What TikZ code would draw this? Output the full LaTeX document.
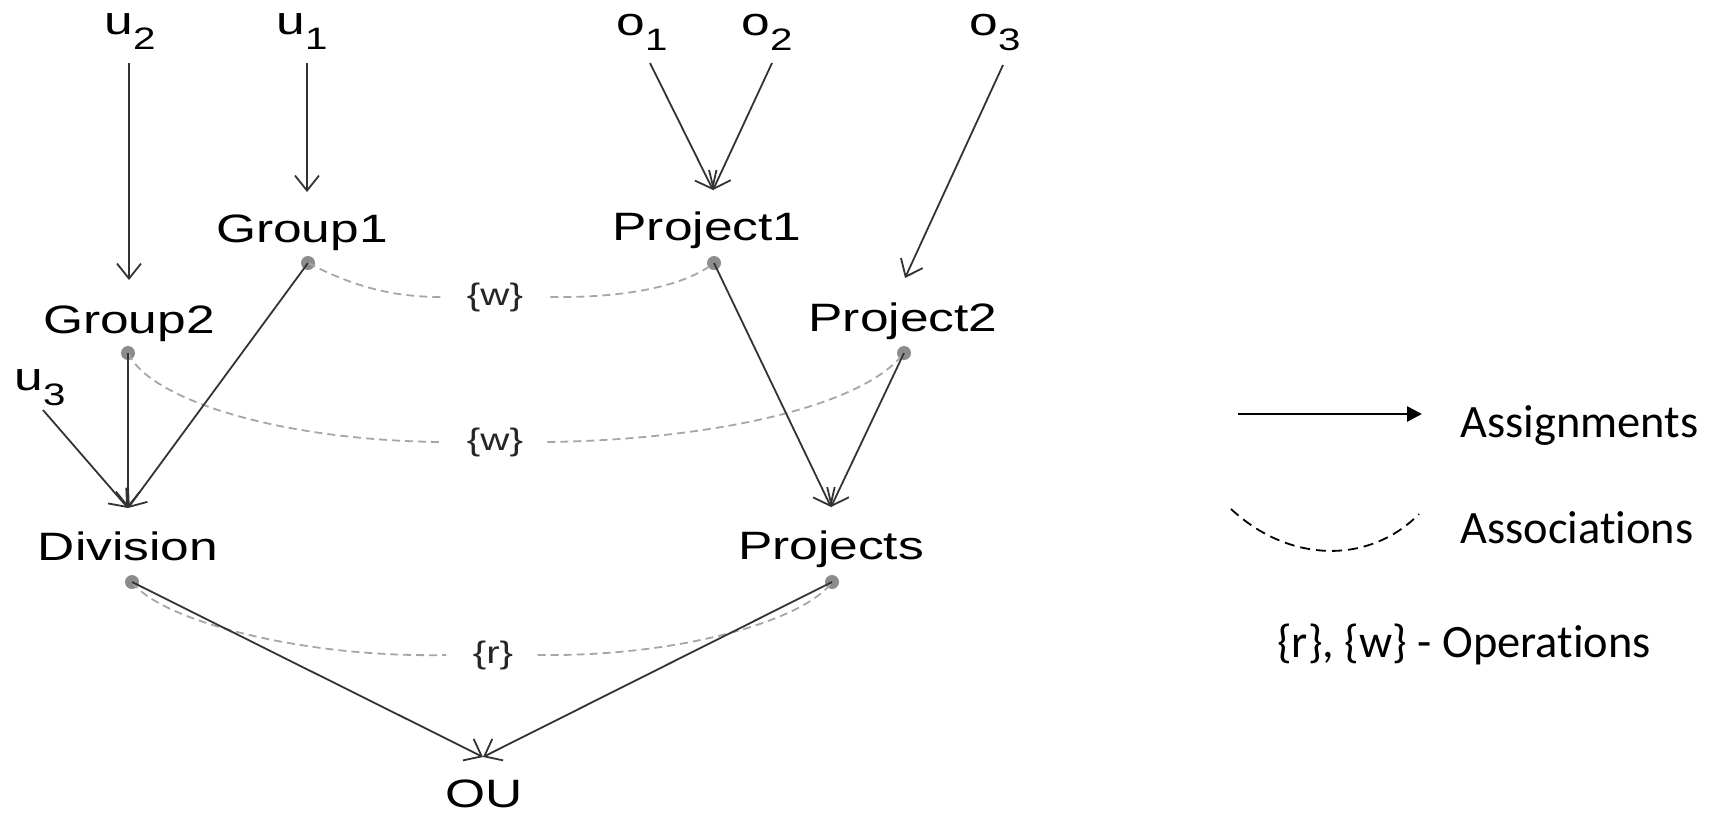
\documentclass[tikz,border=0pt]{standalone}
\usepackage{fontspec}
\setmainfont{Liberation Sans}
\newfontfamily\diagfont[FakeStretch=1.3]{Liberation Sans}
\newfontfamily\legendfont[Ligatures=NoCommon]{Carlito}
\usetikzlibrary{arrows.meta}
\newcommand\sbx[1]{\raisebox{-7.5pt}{\fontsize{15.5pt}{15.5pt}\selectfont #1}}
\begin{document}
\begin{tikzpicture}[x=0.5pt,y=-0.5pt,
  lbl/.style={inner sep=0pt, anchor=base, font=\diagfont\fontsize{19.8pt}{20pt}\selectfont},
  op/.style={inner sep=0pt, font=\diagfont\fontsize{15.5pt}{16pt}\selectfont, text=black!85},
  dot/.style={circle, fill=gray!90, inner sep=0pt, minimum size=7pt},
  assign/.style={draw=black!80, line width=0.9pt, -{Straight Barb[length=7.5pt,width=12pt]}},
  assoc/.style={draw=gray!70, line width=0.9pt, dash pattern=on 4pt off 2.5pt},
  leg/.style={inner sep=0pt, anchor=base west, font=\legendfont\fontsize{23.2pt}{24pt}\selectfont},
  legarrow/.style={draw=black, line width=1.3pt, -{Triangle[length=7.5pt,width=7.5pt]}},
  legassoc/.style={draw=black, line width=0.9pt, dash pattern=on 5pt off 3pt}]
\useasboundingbox (0,0) rectangle (1734,815);

% labels
\node[lbl] (u2) at (130,34) {u\sbx{2}};
\node[lbl] (u1) at (302,34) {u\sbx{1}};
\node[lbl] (o1) at (642,35) {o\sbx{1}};
\node[lbl] (o2) at (767,35) {o\sbx{2}};
\node[lbl] (o3) at (995,35) {o\sbx{3}};
\node[lbl] (u3) at (40,390) {u\sbx{3}};
\node[lbl] (g1) at (302,242) {Group1};
\node[lbl] (p1) at (707,240) {Project1};
\node[lbl] (g2) at (129,333) {Group2};
\node[lbl] (p2) at (903,331) {Project2};
\node[lbl] (div) at (128,560) {Division};
\node[lbl] (prs) at (831,559) {Projects};
\node[lbl] (ou) at (484,807) {OU};

% dots
\node[dot] (g1d) at (308,263) {};
\node[dot] (p1d) at (714,263) {};
\node[dot] (g2d) at (128,353) {};
\node[dot] (p2d) at (904,353) {};
\node[dot] (divd) at (132,582) {};
\node[dot] (prsd) at (832,582) {};

% connector end points
\coordinate (u2o) at (129,63);  \coordinate (g2i) at (129,280);
\coordinate (u1o) at (307,63);  \coordinate (g1i) at (307,192);
\coordinate (o1o) at (650,63);  \coordinate (o2o) at (772,63);
\coordinate (p1i) at (713,190);
\coordinate (o3o) at (1003,65); \coordinate (p2i) at (905,278);
\coordinate (u3o) at (43,410);  \coordinate (divi) at (128,508);
\coordinate (prsi) at (831,507);
\coordinate (oui) at (483,757);

% association labels
\node[op] (w1) at (495,297) {\{w\}};
\node[op] (w2) at (495,442) {\{w\}};
\node[op] (r1) at (493,655) {\{r\}};

% associations
\draw[assoc] (g1d.center) .. controls (360,290) and (400,297) .. ([xshift=-12.5pt]w1.west);
\draw[assoc] ([xshift=13.5pt]w1.east) .. controls (610,298) and (680,290) .. (p1d.center);
\draw[assoc] (g2d.center) .. controls (150,400) and (280,440) .. ([xshift=-13.5pt]w2.west);
\draw[assoc] ([xshift=12pt]w2.east) .. controls (700,440) and (860,410) .. (p2d.center);
\draw[assoc] (divd.center) .. controls (160,620) and (300,658) .. ([xshift=-13pt]r1.west);
\draw[assoc] ([xshift=12pt]r1.east) .. controls (680,657) and (805,620) .. (prsd.center);

% assignments
\draw[assign] (u2o) -- (g2i);
\draw[assign] (u1o) -- (g1i);
\draw[assign] (o1o) -- (p1i);
\draw[assign] (o2o) -- (p1i);
\draw[assign] (o3o) -- (p2i);
\draw[assign] (u3o) -- (divi);
\draw[assign] (g2d.center) -- (divi);
\draw[assign] (g1d.center) -- (divi);
\draw[assign] (p1d.center) -- (prsi);
\draw[assign] (p2d.center) -- (prsi);
\draw[assign] (divd.center) -- (oui);
\draw[assign] (prsd.center) -- (oui);

% legend
\coordinate (la1) at (1238,414);
\coordinate (la2) at (1422,414);
\draw[legarrow] (la1) -- (la2);
\node[leg] (lA) at (1460,437) {Assignments};
\coordinate (lb1) at (1231,509);
\coordinate (lb2) at (1419,514);
\draw[legassoc] (lb1) .. controls (1290,564) and (1370,564) .. (lb2);
\node[leg] (lB) at (1460,543) {Associations};
\node[leg] (lC) at (1277,657) {\{r\}, \{w\} - Operations};
\end{tikzpicture}
\end{document}
